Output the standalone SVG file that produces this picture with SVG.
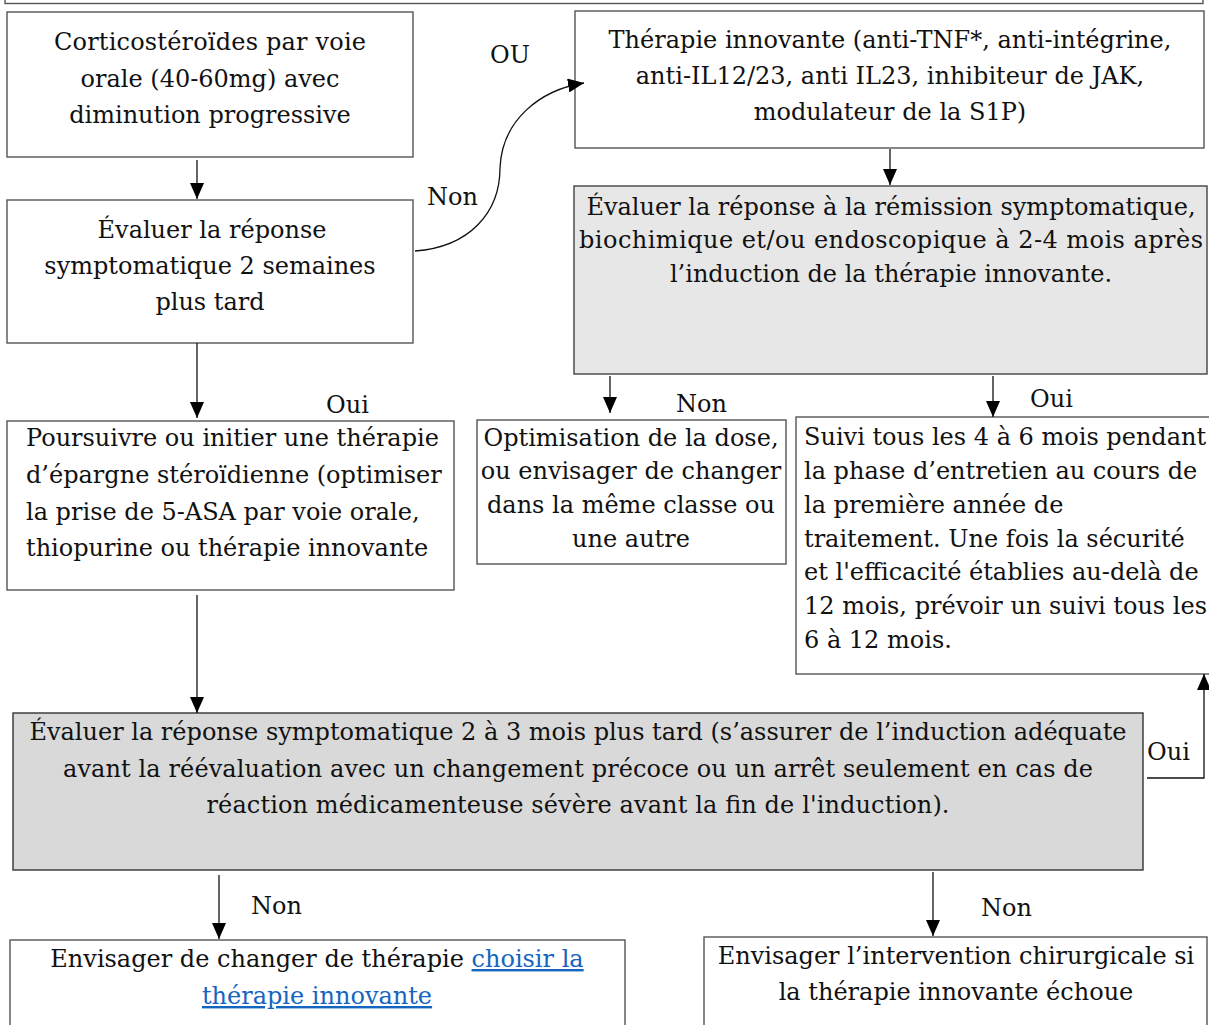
<svg xmlns="http://www.w3.org/2000/svg" width="1209" height="1025" viewBox="0 0 1209 1025">
<style>
.box{fill:#fff;stroke:#555;stroke-width:1.4}
.g1{fill:#e7e7e7;stroke:#444;stroke-width:1.4}
.g2{fill:#d9d9d9;stroke:#333;stroke-width:1.4}
.t{font-family:"DejaVu Serif","Liberation Serif",serif;font-size:24px;fill:#111}
.c{text-anchor:middle}
.lk{fill:#1565c0;text-decoration:underline}
.cn{fill:none;stroke:#111;stroke-width:1.3}
</style>
<defs>
<marker id="ar" viewBox="0 0 16 14" refX="16" refY="7" markerWidth="16" markerHeight="14" markerUnits="userSpaceOnUse" orient="auto">
<path d="M0,0 L16,7 L0,14 Z" fill="#000"/>
</marker>
</defs>
<rect x="5" y="-10" width="1198" height="13.5" class="box"/>
<g id="n1"><rect x="7" y="12" width="406" height="145" class="box"/>
<text class="t c" x="210" y="50" textLength="312">Corticostéroïdes par voie</text>
<text class="t c" x="210" y="87">orale (40-60mg) avec</text>
<text class="t c" x="210" y="123">diminution progressive</text></g>
<g id="n2"><rect x="7" y="200" width="406" height="143" class="box"/>
<text class="t c" x="212" y="238">Évaluer la réponse</text>
<text class="t c" x="210" y="274">symptomatique 2 semaines</text>
<text class="t c" x="210" y="310">plus tard</text></g>
<g id="n3"><rect x="7" y="421" width="447" height="169" class="box"/>
<text class="t" x="26" y="446">Poursuivre ou initier une thérapie</text>
<text class="t" x="26" y="483">d’épargne stéroïdienne (optimiser</text>
<text class="t" x="26" y="520">la prise de 5-ASA par voie orale,</text>
<text class="t" x="26" y="556">thiopurine ou thérapie innovante</text></g>
<g id="n4"><rect x="575" y="11" width="629" height="137" class="box"/>
<text class="t c" x="890" y="48">Thérapie innovante (anti-TNF*, anti-intégrine,</text>
<text class="t c" x="890" y="84">anti-IL12/23, anti IL23, inhibiteur de JAK,</text>
<text class="t c" x="890" y="120">modulateur de la S1P)</text></g>
<g id="n5"><rect x="574" y="186" width="633" height="188" class="g1"/>
<text class="t c" x="891" y="215">Évaluer la réponse à la rémission symptomatique,</text>
<text class="t c" x="891" y="248" textLength="624">biochimique et/ou endoscopique à 2-4 mois après</text>
<text class="t c" x="891" y="282">l’induction de la thérapie innovante.</text></g>
<g id="n6"><rect x="477" y="420" width="309" height="144" class="box"/>
<text class="t c" x="631" y="446">Optimisation de la dose,</text>
<text class="t c" x="631" y="479">ou envisager de changer</text>
<text class="t c" x="631" y="513">dans la même classe ou</text>
<text class="t c" x="631" y="547">une autre</text></g>
<g id="n7"><rect x="796" y="417" width="420" height="257" class="box"/>
<text class="t" x="804" y="445">Suivi tous les 4 à 6 mois pendant</text>
<text class="t" x="804" y="479">la phase d’entretien au cours de</text>
<text class="t" x="804" y="513">la première année de</text>
<text class="t" x="804" y="547">traitement. Une fois la sécurité</text>
<text class="t" x="804" y="580">et l'efficacité établies au-delà de</text>
<text class="t" x="804" y="614">12 mois, prévoir un suivi tous les</text>
<text class="t" x="804" y="648">6 à 12 mois.</text></g>
<g id="n8"><rect x="13" y="713" width="1130" height="157" class="g2"/>
<text class="t c" x="578" y="740">Évaluer la réponse symptomatique 2 à 3 mois plus tard (s’assurer de l’induction adéquate</text>
<text class="t c" x="578" y="777" textLength="1030">avant la réévaluation avec un changement précoce ou un arrêt seulement en cas de</text>
<text class="t c" x="578" y="813" textLength="743">réaction médicamenteuse sévère avant la fin de l'induction).</text></g>
<g id="n9"><rect x="10" y="940" width="615" height="100" class="box"/>
<text class="t c" x="317" y="967">Envisager de changer de thérapie <tspan class="lk">choisir la</tspan></text>
<text class="t c lk" x="317" y="1004">thérapie innovante</text></g>
<g id="n10"><rect x="704" y="937" width="503" height="100" class="box"/>
<text class="t c" x="956" y="964">Envisager l’intervention chirurgicale si</text>
<text class="t c" x="956" y="1000">la thérapie innovante échoue</text></g>
<g id="connectors">
<path class="cn" d="M197,160 V199" marker-end="url(#ar)"/>
<path class="cn" d="M197,343 V418" marker-end="url(#ar)"/>
<path class="cn" d="M197,595 V713" marker-end="url(#ar)"/>
<path class="cn" d="M415,251 C470,247 500,212 500,168 C502,120 540,90 584,83" marker-end="url(#ar)"/>
<path class="cn" d="M890,149 V185" marker-end="url(#ar)"/>
<path class="cn" d="M610,376 V413" marker-end="url(#ar)"/>
<path class="cn" d="M993,376 V417" marker-end="url(#ar)"/>
<path class="cn" d="M1147,778 H1204 V674" marker-end="url(#ar)"/>
<path class="cn" d="M219,875 V939" marker-end="url(#ar)"/>
<path class="cn" d="M933,872 V936" marker-end="url(#ar)"/>
<text class="t" x="490" y="63">OU</text>
<text class="t" x="427" y="205">Non</text>
<text class="t" x="326" y="413">Oui</text>
<text class="t" x="676" y="412">Non</text>
<text class="t" x="1030" y="407">Oui</text>
<text class="t" x="1147" y="760">Oui</text>
<text class="t" x="251" y="914">Non</text>
<text class="t" x="981" y="916">Non</text>
</g>
</svg>
